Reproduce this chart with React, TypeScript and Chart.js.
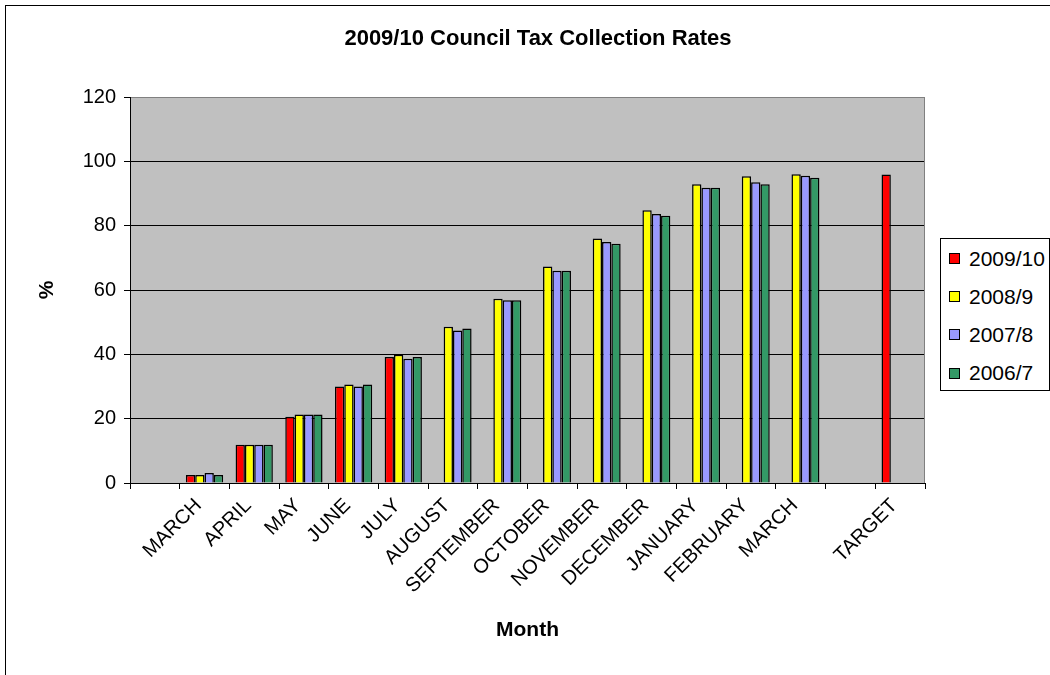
import React, { useEffect, useRef } from "react";
import { Chart, registerables } from "chart.js";

Chart.register(...registerables);

const FONT = "'Liberation Sans', Arial, Helvetica, sans-serif";

const chartTitle = "2009/10 Council Tax Collection Rates";
const xTitle = "Month";
const yTitle = "%";

const categories = [
  "",
  "MARCH",
  "APRIL",
  "MAY",
  "JUNE",
  "JULY",
  "AUGUST",
  "SEPTEMBER",
  "OCTOBER",
  "NOVEMBER",
  "DECEMBER",
  "JANUARY",
  "FEBRUARY",
  "MARCH",
  "",
  "TARGET",
];

const seriesLabels = ["2009/10", "2008/9", "2007/8", "2006/7"];
const seriesColors = ["#FF0000", "#FFFF00", "#9999FF", "#339966"];

const values2009 = [null, 2.5, 11.9, 20.6, 30.0, 39.2, null, null, null, null, null, null, null, null, null, 95.9];
const values2008 = [null, 2.5, 11.9, 21.3, 30.6, 39.9, 48.6, 57.3, 67.3, 76.0, 84.8, 92.9, 95.4, 96.0, null, null];
const values2007 = [null, 3.1, 11.9, 21.3, 30.0, 38.6, 47.4, 56.8, 66.0, 74.9, 83.6, 91.8, 93.5, 95.5, null, null];
const values2006 = [null, 2.5, 11.9, 21.3, 30.6, 39.2, 48.0, 56.8, 66.0, 74.4, 83.1, 91.8, 92.9, 94.9, null, null];

const seriesValues = [values2009, values2008, values2007, values2006];

const yMin = 0;
const yMax = 120;
const yStep = 20;

const plotBackground = {
  id: "plotBackground",
  beforeDraw(chart: any) {
    const { ctx, chartArea: a } = chart;
    ctx.save();
    ctx.fillStyle = "#C0C0C0";
    ctx.fillRect(a.left, a.top, a.right - a.left, a.bottom - a.top);
    ctx.restore();
  },
  beforeDatasetsDraw(chart: any) {
    const { ctx, chartArea: a } = chart;
    ctx.save();
    ctx.strokeStyle = "#808080";
    ctx.lineWidth = 1;
    ctx.beginPath();
    ctx.moveTo(Math.round(a.right) - 0.5, a.top);
    ctx.lineTo(Math.round(a.right) - 0.5, a.bottom);
    ctx.stroke();
    ctx.restore();
  },
};

function ChartCanvas() {
  const ref = useRef<HTMLCanvasElement | null>(null);

  useEffect(() => {
    if (!ref.current) return;
    const chart = new Chart(ref.current, {
      type: "bar",
      data: {
        labels: categories,
        datasets: seriesLabels.map((label, i) => ({
          label,
          data: seriesValues[i],
          backgroundColor: seriesColors[i],
          borderColor: "#000000",
          borderWidth: 1.5,
          categoryPercentage: 0.75,
          barPercentage: 1.0,
          yAxisID: "y",
        })),
      },
      options: {
        responsive: false,
        animation: false,
        devicePixelRatio: 1,
        layout: { padding: { left: 26, right: 0, top: 0, bottom: 0 } },
        plugins: {
          legend: { display: false },
          tooltip: { enabled: false },
          title: {
            display: true,
            text: chartTitle,
            color: "#000",
            font: { family: FONT, size: 22, weight: "bold" },
            padding: { top: 26, bottom: 44.6 },
          },
        },
        scales: {
          x: {
            offset: true,
            grid: {
              offset: true,
              drawOnChartArea: false,
              drawTicks: true,
              tickLength: 6,
              tickColor: "#000",
              color: "#000",
            },
            border: { color: "#000", width: 1 },
            ticks: {
              autoSkip: false,
              maxRotation: 45,
              minRotation: 45,
              color: "#000",
              font: { family: FONT, size: 20 },
              padding: 5,
              labelOffset: -6,
            },
            title: {
              display: true,
              text: xTitle,
              color: "#000",
              font: { family: FONT, size: 21, weight: "bold" },
              padding: { top: 0, bottom: 32.4 },
            },
            afterFit: (s: any) => {
              s.height = 192;
            },
          },
          y: {
            min: yMin,
            max: yMax,
            ticks: {
              stepSize: yStep,
              color: "#000",
              font: { family: FONT, size: 20 },
              padding: 8,
            },
            grid: {
              color: (c: any) => (c.tick && c.tick.value === yMax ? "#808080" : "#000"),
              tickColor: "#000",
              tickLength: 6,
              lineWidth: 1,
            },
            border: { color: "#000", width: 1 },
            title: {
              display: true,
              text: yTitle,
              color: "#000",
              font: { family: FONT, size: 21, weight: "bold" },
              padding: { top: 8.4, bottom: 0 },
            },
            afterFit: (s: any) => {
              s.width = 104;
            },
          },
          yR: {
            position: "right",
            display: true,
            grid: { display: false },
            ticks: { display: false },
            border: { display: false },
            afterFit: (s: any) => {
              s.width = 125;
            },
          },
        },
      },
      plugins: [plotBackground],
    } as any);
    return () => chart.destroy();
  }, []);

  return (
    <canvas
      ref={ref}
      width={1050}
      height={675}
      style={{ position: "absolute", left: 0, top: 0, width: 1050, height: 675 }}
    />
  );
}

export default function App() {
  const legendTop = 258.5;
  const legendStep = 38.2;
  return (
    <div
      style={{
        position: "absolute",
        left: 0,
        top: 0,
        width: 1050,
        height: 675,
        overflow: "hidden",
        background: "#fff",
      }}
    >
      <div
        style={{
          position: "absolute",
          left: 5,
          top: 5,
          width: 1200,
          height: 900,
          border: "1px solid #000",
        }}
      />
      <ChartCanvas />
      <div
        style={{
          position: "absolute",
          left: 940,
          top: 238,
          width: 110,
          height: 153,
          boxSizing: "border-box",
          border: "1px solid #000",
          background: "#fff",
        }}
      />
      {seriesLabels.map((label, i) => {
        const cy = legendTop + i * legendStep;
        return (
          <React.Fragment key={label}>
            <div
              style={{
                position: "absolute",
                left: 949,
                top: Math.round(cy - 5.5),
                width: 11,
                height: 11,
                boxSizing: "border-box",
                border: "1px solid #000",
                background: seriesColors[i],
              }}
            />
            <div
              style={{
                position: "absolute",
                left: 969,
                top: Math.round(cy - 12),
                height: 24,
                lineHeight: "24px",
                fontFamily: FONT,
                fontSize: 21,
                color: "#000",
                whiteSpace: "nowrap",
              }}
            >
              {label}
            </div>
          </React.Fragment>
        );
      })}
    </div>
  );
}
